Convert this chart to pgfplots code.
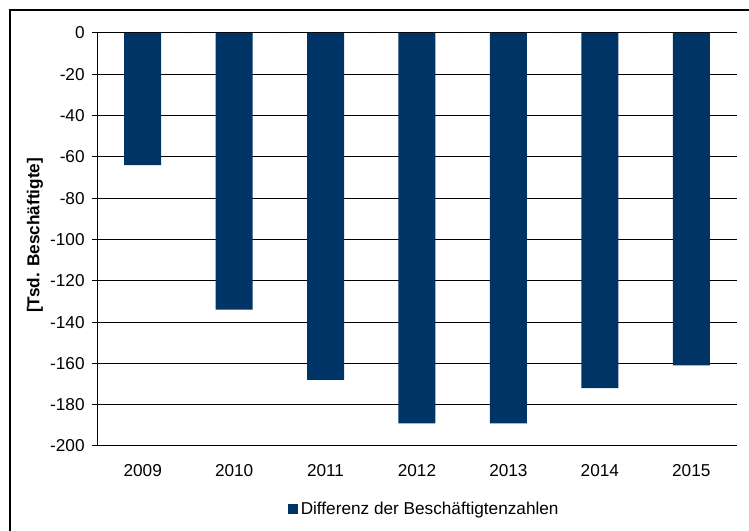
\documentclass[border=0pt]{standalone}
\usepackage{pgfplots}
\pgfplotsset{compat=1.18}
\usepackage{fontspec}
\setmainfont{Liberation Sans}
\definecolor{navy}{RGB}{0,51,102}
\begin{document}
\begin{tikzpicture}[x=0.75pt,y=0.75pt]
\useasboundingbox (0,0) rectangle (749,531);
\draw[black,line width=1pt] (10,-5) -- (10,521) -- (760,521);
\begin{axis}[
  at={(97pt*0.75,85pt*0.75)}, anchor=south west,
  scale only axis, width=480pt, height=309.75pt,
  font=\fontsize{12.9}{15}\selectfont,
  ymin=-200, ymax=0, ytick={-200,-180,...,0},
  xmin=-0.5, xmax=6.5,
  xtick={0,...,6}, xticklabels={2009,2010,2011,2012,2013,2014,2015},
  axis lines*=left, axis line style={-,black,line width=0.75pt},
  xtick style={draw=none},
  ytick style={black,line width=0.75pt},
  tick align=outside, major tick length=3.75pt,
  ymajorgrids, grid style={black,line width=0.75pt},
  /pgf/number format/assume math mode=true,
  xticklabel style={yshift=-6.5pt},
  yticklabel style={xshift=-2pt},
  ylabel={\bfseries [Tsd. Beschäftigte]},
  ylabel style={at={(axis description cs:-0.0969,0.51)},anchor=center},
  legend style={at={(axis description cs:0.512,-0.152)},anchor=center,draw=none,fill=none,font=\fontsize{12.9}{15}\selectfont},
  legend image code/.code={\fill[#1] (0pt,-3.75pt) rectangle (7.5pt,3.75pt);},
]
\addplot[ybar, bar width=27.75pt, fill=navy, draw=none] coordinates {
 (0,-64) (1,-134) (2,-168) (3,-189) (4,-189) (5,-172) (6,-161)};
\addlegendentry{Differenz der Beschäftigtenzahlen}
\foreach \k in {0.5,1.5,...,6.5} {
  \edef\tmp{\noexpand\draw[black,line width=0.75pt] (axis cs:\k,0) -- ++(0,-3.75pt);}\tmp
}
\end{axis}
\end{tikzpicture}
\end{document}
